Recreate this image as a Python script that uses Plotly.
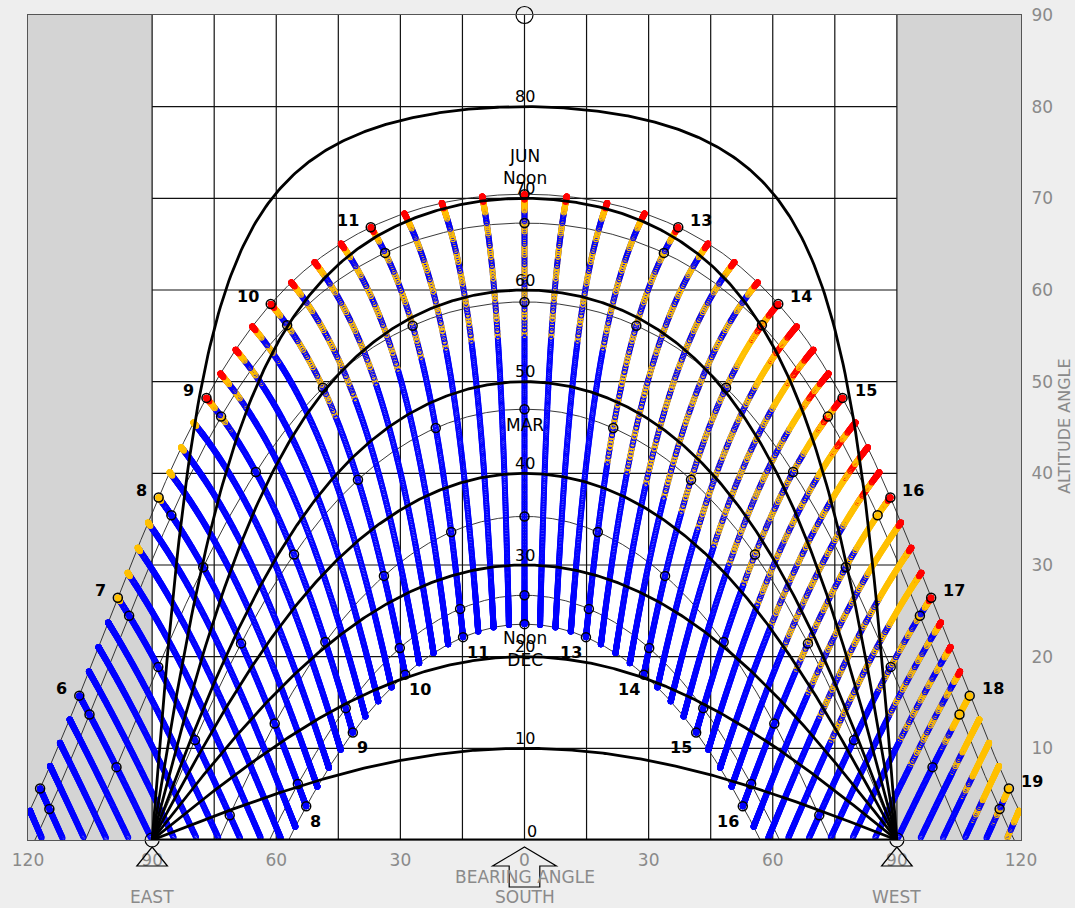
import math
import numpy as np
import plotly.graph_objects as go

# ---------------- data ----------------
LATITUDE = 43.0
MONTH_DAYS = [31, 28, 31, 30, 31, 30, 31, 31, 30, 31, 30, 31]
MONTH_LINE_DECLINATIONS = [23.45, 20.3, 11.7, 0.0, -11.7, -20.3, -23.45]
HOURS = list(range(4, 21))            # clock hours (columns of COMFORT)
QUARTERS = [0.0, 0.25, 0.5, 0.75]     # sun positions every 15 minutes
MARKED_HOURS = list(range(5, 20))
VSA_LEVELS = [0, 10, 20, 30, 40, 50, 60, 70, 80]
VSA_LABELS = [10, 20, 30, 40, 50, 60, 70, 80]
TOP_HOUR_LABELS = [6, 7, 8, 9, 10, 11, 13, 14, 15, 16, 17, 18, 19]
BOTTOM_HOUR_LABELS = [8, 9, 10, 11, 13, 14, 15, 16]
X_TICKS = [-120, -90, -60, -30, 0, 30, 60, 90, 120]
X_TICK_TEXT = ["120", "90", "60", "30", "0", "30", "60", "90", "120"]
Y_TICKS = [10, 20, 30, 40, 50, 60, 70, 80, 90]
GRID_X = [-90, -75, -60, -45, -30, -15, 0, 15, 30, 45, 60, 75, 90]
GRID_Y = [10, 20, 30, 40, 50, 60, 70, 80]
# comfort class per month (rows Jan..Dec) and clock hour 4..20: 0 cold, 1 warm, 2 hot
#            4  5  6  7  8  9 10 11 12 13 14 15 16 17 18 19 20
COMFORT = [
    [0, 0, 0, 0, 0, 0, 0, 0, 0, 0, 0, 0, 0, 0, 0, 0, 0],  # Jan
    [0, 0, 0, 0, 0, 0, 0, 0, 0, 0, 0, 0, 0, 0, 0, 0, 0],  # Feb
    [0, 0, 0, 0, 0, 0, 0, 0, 0, 0, 0, 0, 0, 0, 0, 0, 0],  # Mar
    [0, 0, 0, 0, 0, 0, 0, 0, 0, 0, 0, 0, 0, 0, 0, 0, 0],  # Apr
    [0, 0, 0, 0, 0, 0, 0, 0, 0, 0, 1, 1, 1, 0, 1, 0, 0],  # May
    [0, 0, 0, 1, 1, 2, 2, 2, 2, 2, 2, 2, 2, 2, 1, 1, 1],  # Jun
    [0, 0, 0, 0, 0, 1, 1, 1, 1, 1, 2, 2, 1, 1, 1, 1, 0],  # Jul
    [0, 0, 0, 0, 0, 0, 1, 1, 1, 1, 1, 1, 1, 1, 0, 0, 0],  # Aug
    [0, 0, 0, 0, 0, 0, 0, 0, 0, 1, 1, 1, 1, 0, 0, 0, 0],  # Sep
    [0, 0, 0, 0, 0, 0, 0, 0, 0, 0, 0, 0, 0, 0, 0, 0, 0],  # Oct
    [0, 0, 0, 0, 0, 0, 0, 0, 0, 0, 0, 0, 0, 0, 0, 0, 0],  # Nov
    [0, 0, 0, 0, 0, 0, 0, 0, 0, 0, 0, 0, 0, 0, 0, 0, 0],  # Dec
]
CLASS_COLORS = ["#0000ff", "#ffc000", "#ff0000"]

GRAY_TEXT = "#8a8a8a"
FONT = "DejaVu Sans"
LAT = math.radians(LATITUDE)


def sun_position(dec_deg, hour):
    d = np.radians(dec_deg)
    H = np.radians(15.0 * (np.asarray(hour) - 12.0))
    sin_alt = np.sin(LAT) * np.sin(d) + np.cos(LAT) * np.cos(d) * np.cos(H)
    alt = np.degrees(np.arcsin(np.clip(sin_alt, -1, 1)))
    az = np.degrees(np.arctan2(np.sin(H) * np.cos(d),
                               np.cos(H) * np.cos(d) * np.sin(LAT) - np.sin(d) * np.cos(LAT)))
    return az, alt


# ---------------- daily sun positions coloured by comfort ----------------
pts = []
n = 0
for m, ndays in enumerate(MONTH_DAYS):
    for _ in range(ndays):
        n += 1
        dec = 23.45 * math.sin(math.radians(360.0 / 365.0 * (284 + n)))
        for hi, h in enumerate(HOURS):
            col = CLASS_COLORS[COMFORT[m][hi]]
            for q in QUARTERS:
                az, alt = sun_position(dec, h + q)
                az = float(az); alt = float(alt)
                if alt > 0.2 and abs(az) <= 122:
                    pts.append((dec, n, az, alt, col))


# drawing order: in alternate declination bands, spring or autumn days end up on top,
# so the two halves of the year both stay visible along each line
def draw_key(p):
    band = math.floor(p[0] / 1.2)
    return (band, p[1] if band % 2 == 0 else -p[1])


pts.sort(key=draw_key)
xs = [p[2] for p in pts]
ys = [p[3] for p in pts]
cs = [p[4] for p in pts]

fig = go.Figure()

# constant vertical-shadow-angle curves
vx, vy = [], []
az_grid = np.arange(-90, 90.01, 0.5)
for v in VSA_LEVELS:
    alt = np.degrees(np.arctan(math.tan(math.radians(v)) * np.cos(np.radians(az_grid))))
    vx += list(az_grid) + [None]
    vy += list(alt) + [None]

# monthly sun-path lines
mx, my = [], []
hx, hy = [], []
fine_hours = np.arange(3.0, 21.0, 0.01)
for dec in MONTH_LINE_DECLINATIONS:
    az, alt = sun_position(dec, fine_hours)
    mask = alt > -3
    mx += list(az[mask]) + [None]
    my += list(alt[mask]) + [None]
    for h in MARKED_HOURS:
        a, b = sun_position(dec, h)
        if b > 0.3 and abs(a) <= 120:
            hx.append(float(a)); hy.append(float(b))

fig.add_trace(go.Scatter(x=mx, y=my, mode="lines", line=dict(color="#222", width=0.9),
                         hoverinfo="skip", showlegend=False))
fig.add_trace(go.Scatter(x=xs, y=ys, mode="markers",
                         marker=dict(symbol="circle-open", size=5, color=cs,
                                     line=dict(width=1.1, color=cs)),
                         hoverinfo="skip", showlegend=False))
fig.add_trace(go.Scatter(x=vx, y=vy, mode="lines", line=dict(color="black", width=2.8),
                         hoverinfo="skip", showlegend=False))
fig.add_trace(go.Scatter(x=hx, y=hy, mode="markers",
                         marker=dict(symbol="circle-open", size=9, color="black",
                                     line=dict(width=1.5, color="black")),
                         hoverinfo="skip", showlegend=False))
fig.add_trace(go.Scatter(x=[-90, 90], y=[0, 0], mode="markers", cliponaxis=False,
                         marker=dict(symbol="circle-open", size=14, color="black",
                                     line=dict(width=1.2, color="black")),
                         hoverinfo="skip", showlegend=False))
fig.add_trace(go.Scatter(x=[0], y=[90], mode="markers", cliponaxis=False,
                         marker=dict(symbol="circle-open", size=17, color="black",
                                     line=dict(width=1.2, color="black")),
                         hoverinfo="skip", showlegend=False))

# ---------------- shapes: shaded zones, grid, markers below axis ----------------
shapes = []
for x0, x1 in [(-120, -90), (90, 120)]:
    shapes.append(dict(type="rect", xref="x", yref="y", x0=x0, x1=x1, y0=0, y1=90,
                       fillcolor="#d4d4d4", line=dict(width=0), layer="below"))
for gx in GRID_X:
    shapes.append(dict(type="line", xref="x", yref="y", x0=gx, x1=gx, y0=0, y1=90,
                       line=dict(color="#111", width=1.2), layer="below"))
for gy in GRID_Y:
    shapes.append(dict(type="line", xref="x", yref="y", x0=-90, x1=90, y0=gy, y1=gy,
                       line=dict(color="#111", width=1.2), layer="below"))

PLOT_H = 825.0


def xp(deg):
    return (deg + 120.0) / 240.0


def yp(px_below):
    return -px_below / PLOT_H


for cx in (-90, 90):
    path = "M {},{} L {},{} L {},{} Z".format(xp(cx), yp(7), xp(cx + 3.7), yp(26),
                                              xp(cx - 3.7), yp(26))
    shapes.append(dict(type="path", xref="paper", yref="paper", path=path,
                       line=dict(color="black", width=1.2)))
arrow_pts = [(0, 7), (7.7, 26), (3.7, 26), (3.7, 47), (-3.7, 47), (-3.7, 26), (-7.7, 26)]
path = "M " + " L ".join("{},{}".format(xp(a), yp(b)) for a, b in arrow_pts) + " Z"
shapes.append(dict(type="path", xref="paper", yref="paper", path=path,
                   line=dict(color="black", width=1.2)))

# ---------------- annotations ----------------
ann = []
for v in VSA_LABELS:
    ann.append(dict(x=0, y=v, xref="x", yref="y", text=str(v), showarrow=False,
                    yshift=10, font=dict(family=FONT, size=16, color="black")))
ann.append(dict(x=0, y=0, xref="x", yref="y", text="0", showarrow=False,
                xshift=7, yshift=9, font=dict(family=FONT, size=16, color="black")))

for h in TOP_HOUR_LABELS:
    a, b = sun_position(23.45, h)
    left = h < 12
    ann.append(dict(x=float(a), y=float(b), xref="x", yref="y", text="<b>%d</b>" % h,
                    showarrow=False, xanchor="right" if left else "left",
                    xshift=-10 if left else 10, yshift=7,
                    font=dict(family=FONT, size=16, color="black")))
for h in BOTTOM_HOUR_LABELS:
    a, b = sun_position(-23.45, h)
    left = h < 12
    ann.append(dict(x=float(a), y=float(b), xref="x", yref="y", text="<b>%d</b>" % h,
                    showarrow=False, xanchor="left" if left else "right",
                    xshift=2 if left else -2, yshift=-15,
                    font=dict(family=FONT, size=16, color="black")))

_, jun_noon = sun_position(23.45, 12)
_, mar_noon = sun_position(0.0, 12)
_, dec_noon = sun_position(-23.45, 12)
ann.append(dict(x=0, y=float(jun_noon), xref="x", yref="y", text="JUN<br>Noon",
                showarrow=False, yshift=27, font=dict(family=FONT, size=17, color="black")))
ann.append(dict(x=0, y=float(mar_noon), xref="x", yref="y", text="MAR",
                showarrow=False, yshift=-16, font=dict(family=FONT, size=17, color="black")))
ann.append(dict(x=0, y=float(dec_noon), xref="x", yref="y", text="Noon<br>DEC",
                showarrow=False, yshift=-25, font=dict(family=FONT, size=17, color="black")))

gray_font = dict(family=FONT, size=17, color=GRAY_TEXT)
ann.append(dict(x=0, y=yp(37), xref="x", yref="paper", text="BEARING ANGLE",
                showarrow=False, yanchor="middle", font=gray_font))
ann.append(dict(x=0, y=yp(57), xref="x", yref="paper", text="SOUTH",
                showarrow=False, yanchor="middle", font=gray_font))
ann.append(dict(x=-90, y=yp(57), xref="x", yref="paper", text="EAST",
                showarrow=False, yanchor="middle", font=gray_font))
ann.append(dict(x=90, y=yp(57), xref="x", yref="paper", text="WEST",
                showarrow=False, yanchor="middle", font=gray_font))
ann.append(dict(x=1.0443, y=0.502, xref="paper", yref="paper", text="ALTITUDE ANGLE",
                textangle=-90, showarrow=False, xanchor="center", yanchor="middle",
                font=dict(family=FONT, size=16, color=GRAY_TEXT)))

fig.update_layout(
    width=1075, height=908,
    margin=dict(l=28, r=54, t=15, b=68, autoexpand=False),
    paper_bgcolor="#eeeeee", plot_bgcolor="white",
    showlegend=False,
    shapes=shapes, annotations=ann,
    xaxis=dict(range=[-120, 120], tickvals=X_TICKS, ticktext=X_TICK_TEXT,
               showgrid=False, zeroline=False, showline=True, mirror=True,
               linecolor="#555", linewidth=1, ticks="outside", ticklen=5,
               tickcolor="rgba(0,0,0,0)", tickfont=gray_font, fixedrange=True,
               automargin=False),
    yaxis=dict(range=[0, 90], tickvals=Y_TICKS, side="right",
               showgrid=False, zeroline=False, showline=True, mirror=True,
               linecolor="#555", linewidth=1, ticks="outside", ticklen=6,
               tickcolor="rgba(0,0,0,0)", tickfont=gray_font, fixedrange=True,
               automargin=False),
)

fig.write_html(
    "out.html",
    config={"displayModeBar": False},
    post_script="document.body.style.margin='0';document.body.style.background='#eeeeee';",
)
